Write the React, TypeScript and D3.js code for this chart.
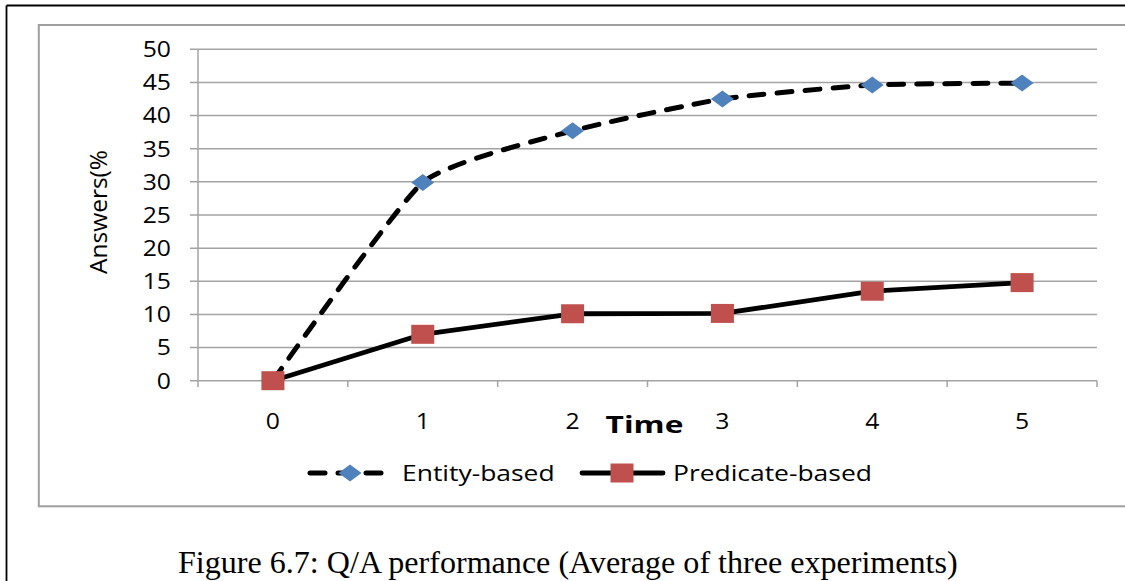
import React from "react";
import * as d3 from "d3";

const categories = ["0", "1", "2", "3", "4", "5"];
const entityValues = [0, 29.9, 37.7, 42.5, 44.6, 44.9];
const predicateValues = [0, 7.0, 10.1, 10.15, 13.5, 14.8];
const yTicks = [0, 5, 10, 15, 20, 25, 30, 35, 40, 45, 50];
const seriesNames = ["Entity-based", "Predicate-based"];
const yLabel = "Answers(%";
const xLabel = "Time";
const caption = "Figure 6.7: Q/A performance (Average of three experiments)";

const W = 1125;
const H = 581;
const SX = 1.15;
const FONT = "'Open Sans', sans-serif";
const GRID = "#a3a3a3";
const BLUE = "#4f81bd";
const RED = "#c0504d";

function SText(props: any) {
  const { x, y, sx = SX, anchor = "start", children, ...rest } = props;
  return (
    <text
      transform={`translate(${x},${y}) scale(${sx},1)`}
      textAnchor={anchor}
      {...rest}
    >
      {children}
    </text>
  );
}

export default function App() {
  const x = d3.scaleBand().domain(categories).range([198, 1097]).padding(0);
  const y = d3.scaleLinear().domain([0, 50]).range([380.7, 49.3]);
  const cx = (c: string) => (x(c) as number) + x.bandwidth() / 2;

  const entityLine = d3
    .line<number>()
    .x((_, i) => cx(categories[i]))
    .y((d) => y(d))
    .curve(d3.curveCardinal.tension(0.5));

  const predicateLine = d3
    .line<number>()
    .x((_, i) => cx(categories[i]))
    .y((d) => y(d))
    .curve(d3.curveLinear);

  const boundaries = d3.range(categories.length + 1).map((i) => 198 + i * x.bandwidth());

  const diamond = (px: number, py: number) =>
    `M${px - 11.5},${py} L${px},${py - 8.5} L${px + 11.5},${py} L${px},${py + 8.5} Z`;

  const legY = 473;

  return (
    <svg
      width={W}
      height={H}
      style={{ position: "absolute", left: 0, top: 0, background: "#fff" }}
    >
      <rect x={0} y={0} width={W} height={H} fill="#fff" />
      {/* outer black frame */}
      <line x1={6.5} y1={5.5} x2={W + 5} y2={5.5} stroke="#000" strokeWidth={1.8} />
      <line x1={6.5} y1={5.5} x2={6.5} y2={H + 5} stroke="#000" strokeWidth={1.8} />
      {/* inner grey chart border */}
      <rect x={38.8} y={25} width={W} height={481.3} fill="none" stroke="#9e9e9e" strokeWidth={2} />

      {/* gridlines */}
      {yTicks.map((t) => (
        <line key={"g" + t} x1={190} x2={1097} y1={y(t)} y2={y(t)} stroke={GRID} strokeWidth={1.5} />
      ))}
      {/* y axis */}
      <line x1={198} x2={198} y1={y(50)} y2={y(0)} stroke={GRID} strokeWidth={1.5} />
      {/* x axis ticks */}
      {boundaries.map((b, i) => (
        <line key={"xt" + i} x1={b} x2={b} y1={y(0)} y2={387} stroke={GRID} strokeWidth={1.5} />
      ))}

      {/* y tick labels */}
      {yTicks.map((t) => (
        <SText
          key={"yl" + t}
          x={171}
          y={y(t) + 7.8}
          anchor="end"
          fontFamily={FONT}
          fontSize={21.5}
          fill="#000"
        >
          {t}
        </SText>
      ))}
      {/* x tick labels */}
      {categories.map((c) => (
        <SText key={"xl" + c} x={cx(c)} y={429.3} anchor="middle" fontFamily={FONT} fontSize={21.5} fill="#000">
          {c}
        </SText>
      ))}
      {/* axis titles */}
      <SText x={644.5} y={432.5} anchor="middle" fontFamily={FONT} fontSize={24} fontWeight="bold" fill="#000" sx={1.32}>
        {xLabel}
      </SText>
      <text
        transform={`translate(106.5,212) rotate(-90)`}
        textAnchor="middle"
        fontFamily={FONT}
        fontSize={24.5}
        fill="#000"
      >
        {yLabel}
      </text>

      {/* series lines */}
      <path
        d={entityLine(entityValues) || ""}
        fill="none"
        stroke="#000"
        strokeWidth={5}
        strokeDasharray="15 13"
        strokeLinecap="round"
      />
      {entityValues.map((v, i) => (
        <path key={"em" + i} d={diamond(cx(categories[i]), y(v))} fill={BLUE} />
      ))}
      <path d={predicateLine(predicateValues) || ""} fill="none" stroke="#000" strokeWidth={4.8} strokeLinejoin="round" />
      {predicateValues.map((v, i) => (
        <rect key={"pm" + i} x={cx(categories[i]) - 11.5} y={y(v) - 9.5} width={23} height={19} fill={RED} />
      ))}

      {/* legend */}
      <line
        x1={310}
        x2={390}
        y1={legY}
        y2={legY}
        stroke="#000"
        strokeWidth={5}
        strokeDasharray="15 13"
        strokeLinecap="round"
      />
      <path d={diamond(350, legY)} fill={BLUE} />
      <SText x={402} y={legY + 8} fontFamily={FONT} fontSize={21.5} fill="#000" sx={1.23}>
        {seriesNames[0]}
      </SText>
      <line x1={582} x2={663} y1={legY} y2={legY} stroke="#000" strokeWidth={4.8} strokeLinecap="round" />
      <rect x={622 - 11.5} y={legY - 9.5} width={23} height={19} fill={RED} />
      <SText x={673} y={legY + 8} fontFamily={FONT} fontSize={21.5} fill="#000" sx={1.23}>
        {seriesNames[1]}
      </SText>

      {/* caption */}
      <text x={178} y={573} fontFamily="'Liberation Serif', 'Times New Roman', serif" fontSize={32.1} fill="#000">
        {caption}
      </text>
    </svg>
  );
}
